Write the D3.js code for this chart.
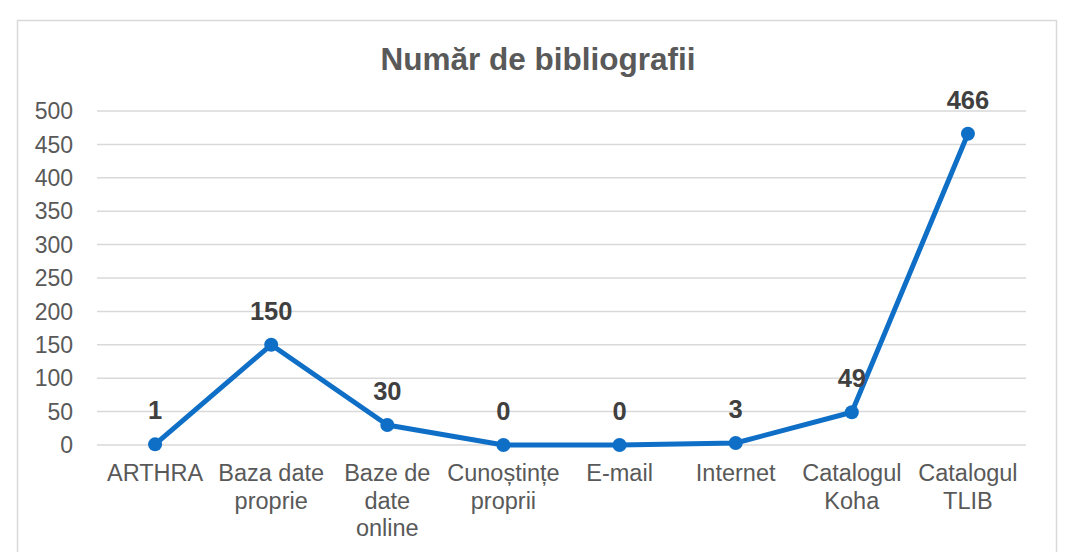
<!DOCTYPE html>
<meta charset="utf-8">
<html>
<style>
body { margin: 0; background: #fff; }
.tick-label { font: 23px "Liberation Sans", Arial, sans-serif; fill: #595959; }
.cat-label { font: 23.5px "Liberation Sans", Arial, sans-serif; fill: #595959; text-anchor: middle; }
.data-label { font: bold 25.5px "Liberation Sans", Arial, sans-serif; fill: #404040; text-anchor: middle; }
.title { font: bold 31.5px "Liberation Sans", Arial, sans-serif; fill: #595959; text-anchor: middle; }
</style>
<svg width="1065" height="552"></svg>
<script src="https://cdn.jsdelivr.net/npm/d3@7"></script>
<script>
// data
var categories = ["ARTHRA", "Baza date proprie", "Baze de date online", "Cunoștințe proprii",
                  "E-mail", "Internet", "Catalogul Koha", "Catalogul TLIB"];
// how each category label wraps
var catLines = [["ARTHRA"], ["Baza date", "proprie"], ["Baze de", "date", "online"],
                ["Cunoștințe", "proprii"], ["E-mail"], ["Internet"],
                ["Catalogul", "Koha"], ["Catalogul", "TLIB"]];
var values = [1, 150, 30, 0, 0, 3, 49, 466];
var yTicks = [0, 50, 100, 150, 200, 250, 300, 350, 400, 450, 500];

var svg = d3.select("svg");

// chart frame
svg.append("rect")
    .attr("x", 17.5).attr("y", 20.5)
    .attr("width", 1039).attr("height", 560)
    .attr("fill", "#fff")
    .attr("stroke", "#d9d9d9")
    .attr("stroke-width", 1.5);

svg.append("text")
    .attr("class", "title")
    .attr("x", 538).attr("y", 70)
    .text("Număr de bibliografii");

var x = d3.scaleBand()
    .domain(categories)
    .range([97, 1026]);

var y = d3.scaleLinear()
    .domain([0, 500])
    .range([445, 111]);

// gridlines
svg.append("g")
  .selectAll("line")
  .data(yTicks)
  .join("line")
    .attr("x1", 97).attr("x2", 1026)
    .attr("y1", d => y(d)).attr("y2", d => y(d))
    .attr("stroke", "#d9d9d9")
    .attr("stroke-width", 1.5);

// y tick labels
svg.append("g")
  .selectAll("text")
  .data(yTicks)
  .join("text")
    .attr("class", "tick-label")
    .attr("x", 73)
    .attr("y", d => y(d))
    .attr("dy", "0.36em")
    .attr("text-anchor", "end")
    .text(d => d);

// category labels
var cx = d => x(d) + x.bandwidth() / 2;
svg.append("g")
  .selectAll("text")
  .data(categories)
  .join("text")
    .attr("class", "cat-label")
    .attr("x", d => cx(d))
    .attr("y", 481)
  .selectAll("tspan")
  .data((d, i) => catLines[i].map(t => [d, t]))
  .join("tspan")
    .attr("x", d => cx(d[0]))
    .attr("dy", (d, i) => i === 0 ? 0 : 27.5)
    .text(d => d[1]);

var pts = categories.map((c, i) => [cx(c), y(values[i]), values[i]]);

svg.append("path")
    .datum(pts)
    .attr("fill", "none")
    .attr("stroke", "#0f6fc6")
    .attr("stroke-width", 5)
    .attr("stroke-linejoin", "round")
    .attr("d", d3.line().x(d => d[0]).y(d => d[1]));

svg.append("g")
  .selectAll("circle")
  .data(pts)
  .join("circle")
    .attr("cx", d => d[0])
    .attr("cy", d => d[1])
    .attr("r", 7)
    .attr("fill", "#0f6fc6");

svg.append("g")
  .selectAll("text")
  .data(pts)
  .join("text")
    .attr("class", "data-label")
    .attr("x", d => d[0])
    .attr("y", d => d[1] - 25)
    .text(d => d[2]);
</script>
</html>
